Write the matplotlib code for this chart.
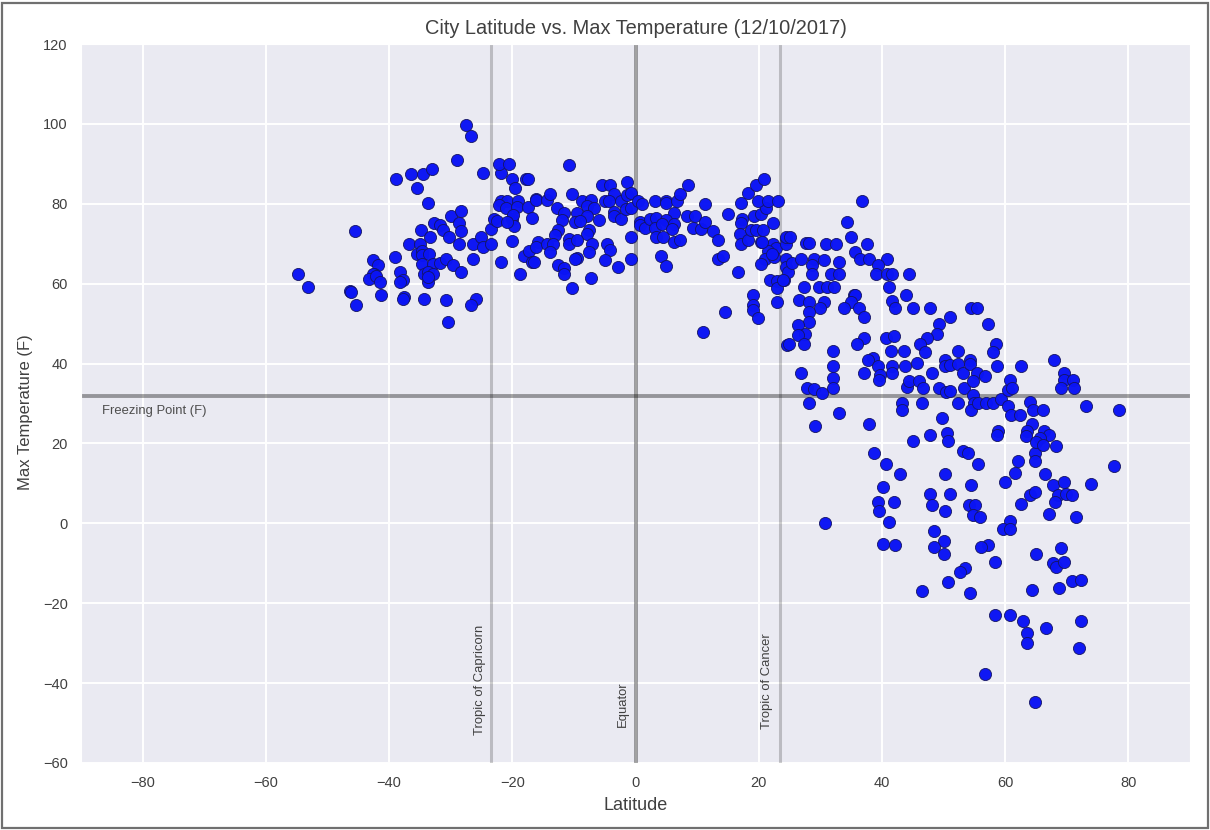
import matplotlib
matplotlib.use("Agg")
import matplotlib.pyplot as plt
import numpy as np
import seaborn as sns
from matplotlib.patches import Rectangle

# values, one pair of lists per latitude band
lat_south = [-54.7, -53.1, -46.4, -46.1, -45.3, -45.5, -42.6, -41.8, -42.4, -42.6, -43.3, -42.2, -41.5, -41.3, -39.1, -38.8,
             -38.3, -37.7, -38.3, -37.5, -37.7, -36.7, -36.4, -34.5, -33.1, -35.4, -33.7, -34.8, -35.0, -33.4, -35.5, -34.7,
             -34.7, -33.5, -34.7, -32.9, -31.8, -30.8, -29.7, -28.3, -34.3, -33.6, -32.9, -33.7, -33.7, -34.3, -30.8, -30.5,
             -25.9, -26.7, -32.7, -31.8, -31.2, -30.2, -29.9, -28.3, -28.6, -28.3, -28.6, -28.9, -27.5, -26.7, -24.8, -26.4,
             -26.4, -25.1, -24.8, -23.4, -23.4, -22.9, -22.4, -21.8, -18.7, -20.0, -21.9, -22.2, -20.6, -20.0, -19.5, -17.7,
             -17.5, -21.9, -20.9, -22.2, -21.0, -19.0, -19.2, -17.5, -20.0, -19.9, -19.8, -20.9, -18.1, -17.3]
temp_south = [62.5, 59.2, 58.2, 57.9, 54.6, 73.3, 65.8, 64.7, 62.3, 62.5, 61.2, 62.0, 60.4, 57.1, 66.7, 86.1,
              62.9, 60.8, 60.4, 56.7, 56.2, 70.0, 87.4, 87.4, 88.6, 84.0, 80.3, 73.4, 70.0, 71.7, 67.5, 68.3,
              67.1, 67.5, 65.0, 65.0, 65.2, 66.3, 64.6, 62.9, 62.5, 62.9, 62.5, 60.4, 61.7, 56.2, 55.8, 50.4,
              56.2, 54.6, 75.3, 74.6, 73.4, 71.7, 77.0, 78.3, 75.3, 73.2, 70.0, 91.0, 99.8, 96.9, 87.8, 70.0,
              66.3, 71.7, 69.2, 70.0, 73.6, 76.1, 75.7, 65.4, 62.5, 70.8, 87.8, 90.0, 89.9, 86.1, 84.0, 86.1,
              86.1, 80.7, 80.7, 79.6, 79.0, 80.7, 79.2, 79.2, 76.3, 77.1, 74.4, 75.4, 67.0, 68.3]

lat_tropics = [-10.8, -16.2, -16.2, -14.4, -13.8, -12.7, -11.6, -12.0, -16.8, -12.5, -13.0, -15.9, -16.2, -14.4, -13.4, -13.8,
               -16.8, -16.5, -12.5, -11.6, -11.6, -10.3, -7.3, -10.3, -8.7, -7.3, -7.9, -6.8, -9.5, -7.9, -9.8, -9.0,
               -6.0, -7.6, -7.9, -10.8, -10.8, -9.5, -7.1, -7.6, -9.5, -9.8, -4.6, -4.1, -4.9, -2.8, -0.7, -0.7,
               -5.5, -4.1, -1.4, -3.5, -4.9, -4.3, -2.4, -1.4, -0.7, -3.5, -3.5, -2.3, -1.6, -0.7, 0.4, 1.0,
               0.8, 0.8, 1.6, 3.1, 2.4, 3.4, 3.2, 4.9, 5.0, 6.8, 7.2, 8.5, 6.3, 4.9, 4.3, 6.3,
               5.9, 3.4, 4.5, 6.2, 7.3, 4.2, 5.0, 8.3, 9.6, 9.4, 10.7, 11.3, 11.3, 12.6, 13.4, 13.4,
               14.2, 10.9, 14.5, 16.6, 15.0, 17.2, 18.2, 19.6, 20.9, 17.3, 17.2, 16.9, 17.2, 18.2, 19.3, 20.4,
               21.2, 19.9, 21.5, 23.1, 22.3, 18.7, 19.5, 20.7, 20.3, 22.3, 22.8, 21.5, 21.1, 20.3, 22.5, 21.9,
               22.9, 24.1, 23.0, 23.0, 24.4, 24.4, 24.5, 24.5, 24.7, 24.6, 19.0, 19.0, 19.0, 19.9, 20.6, 22.2, 24.0]
temp_tropics = [89.8, 81.3, 80.9, 80.9, 82.5, 79.0, 77.8, 75.9, 76.5, 73.4, 72.1, 70.4, 69.2, 70.0, 70.0, 67.9,
                65.4, 65.3, 64.6, 64.0, 62.4, 58.8, 61.3, 82.5, 80.7, 80.9, 79.5, 79.0, 77.8, 77.0, 75.5, 75.7,
                75.9, 73.4, 72.5, 71.3, 69.9, 70.9, 70.0, 67.9, 66.5, 66.3, 70.0, 68.4, 65.9, 64.2, 66.3, 71.6,
                84.6, 84.6, 85.4, 82.5, 80.7, 80.7, 80.7, 82.3, 82.8, 78.0, 77.0, 76.1, 78.6, 79.0, 80.7, 80.0,
                75.5, 74.6, 74.0, 80.7, 76.1, 76.5, 74.0, 80.7, 80.3, 80.7, 82.5, 84.6, 77.8, 75.9, 74.9, 75.0,
                73.6, 71.6, 71.6, 70.4, 70.9, 67.0, 64.5, 77.0, 77.0, 74.0, 73.6, 75.5, 80.0, 73.2, 70.9, 66.3,
                67.0, 47.9, 52.9, 62.9, 77.5, 80.3, 82.8, 84.6, 86.1, 76.1, 75.3, 72.5, 69.9, 70.9, 77.0, 77.4,
                79.0, 80.7, 80.7, 80.7, 75.3, 73.4, 73.4, 73.4, 70.4, 70.0, 69.0, 68.2, 66.1, 65.0, 66.7, 60.8,
                60.6, 60.8, 58.8, 55.4, 71.3, 70.0, 66.3, 64.2, 62.9, 44.6, 57.1, 54.6, 53.3, 51.3, 70.5, 67.5, 61.0]

lat_north = [36.8, 34.4, 34.9, 37.6, 35.7, 36.4, 37.9, 40.9, 39.3, 39.0, 40.9, 41.7, 44.4, 41.2, 43.9, 41.7,
             42.2, 45.0, 47.8, 51.1, 49.2, 48.9, 47.3, 46.2, 47.0, 40.7, 42.0, 41.4, 43.5, 45.7, 43.8, 41.7,
             41.7, 38.6, 37.7, 39.3, 39.7, 39.5, 37.1, 36.0, 37.1, 35.5, 35.7, 34.9, 33.9, 36.3, 37.1, 54.4,
             55.5, 29.8, 31.1, 32.2, 27.3, 26.5, 28.2, 30.6, 29.9, 28.2, 28.2, 26.3, 27.5, 26.3, 24.9, 27.3,
             32.0, 32.0, 32.0, 32.0, 26.8, 27.8, 29.0, 30.3, 28.2, 33.0, 29.2, 53.3, 49.2, 44.1, 44.4, 46.0,
             46.6, 48.1, 50.3, 50.2, 51.1, 52.4, 52.4, 53.2, 54.3, 54.3, 55.4, 54.8, 50.4, 51.1, 24.5, 25.0,
             25.4, 26.8, 27.6, 28.2, 30.9, 32.5, 29.0, 28.7, 28.7, 30.6, 33.0, 31.7, 33.0]
temp_north = [80.7, 75.4, 71.7, 70.0, 68.0, 66.1, 66.1, 66.3, 64.6, 62.5, 62.5, 62.5, 62.5, 59.2, 57.1, 55.7,
              53.8, 53.8, 53.8, 51.7, 50.0, 47.5, 46.4, 44.8, 42.9, 46.4, 46.8, 43.1, 43.1, 40.2, 39.3, 39.3,
              37.7, 41.4, 41.0, 39.3, 37.2, 35.8, 46.4, 44.8, 37.7, 57.1, 57.1, 55.4, 53.8, 53.8, 51.7, 53.9,
              53.9, 59.2, 59.2, 59.2, 59.2, 55.9, 55.4, 55.4, 53.8, 52.9, 50.4, 49.6, 47.5, 47.1, 44.8, 44.8,
              43.1, 39.3, 36.4, 33.9, 37.7, 33.9, 33.6, 32.7, 30.2, 27.7, 24.4, 33.9, 33.9, 34.1, 35.6, 35.6,
              33.9, 37.7, 41.0, 39.3, 39.7, 43.1, 40.0, 37.7, 41.0, 40.0, 37.7, 35.6, 32.9, 33.2, 71.7, 71.7,
              65.2, 66.3, 70.3, 70.3, 70.0, 70.0, 66.3, 64.6, 62.5, 65.9, 65.5, 62.5, 62.5]

lat_cold = [57.2, 58.5, 58.0, 58.6, 62.6, 68.0, 69.6, 69.6, 71.0, 69.0, 71.2, 73.1, 78.5, 56.7, 54.7, 55.0,
            54.5, 55.6, 56.9, 58.0, 59.3, 60.5, 60.8, 61.1, 60.4, 61.0, 62.4, 64.0, 64.5, 66.2, 52.4, 46.5,
            43.2, 43.2, 49.7, 37.9, 47.8, 50.5, 50.8, 45.1, 58.9, 58.6, 53.2, 54.0, 55.6, 38.7, 40.6, 43.0,
            50.2, 40.1, 54.5, 62.1, 61.6, 60.0, 66.4, 64.8, 64.8, 64.3, 63.6, 63.4, 66.3, 67.1, 65.6, 65.0,
            66.1, 68.3, 77.7, 73.9, 67.8, 69.6, 68.5, 69.8, 70.8, 68.1, 71.5, 67.1, 62.6, 64.0, 64.8, 47.8,
            51.1, 42.0, 39.3, 39.5, 48.1, 50.2, 54.1, 55.1, 54.7, 55.9, 41.1, 60.8, 59.6, 60.8, 30.8]
temp_cold = [50.0, 45.0, 42.9, 39.3, 39.3, 41.0, 37.7, 35.8, 35.8, 33.8, 33.8, 29.3, 28.4, 36.8, 32.2, 30.0,
             28.4, 30.0, 30.0, 30.0, 31.2, 33.3, 35.8, 33.8, 29.3, 27.2, 27.2, 30.3, 28.4, 28.4, 30.1, 30.1,
             30.1, 28.4, 26.4, 24.8, 22.2, 22.7, 20.6, 20.6, 23.2, 22.2, 18.1, 17.7, 14.9, 17.7, 14.9, 12.4,
             12.4, 9.0, 9.5, 15.6, 12.7, 10.3, 12.4, 17.6, 15.5, 24.8, 23.2, 21.8, 23.2, 22.2, 21.4, 20.3,
             19.7, 19.3, 14.3, 9.9, 9.5, 10.3, 7.1, 7.4, 7.0, 5.3, 1.5, 2.4, 4.9, 7.1, 7.8, 7.4,
             7.4, 5.3, 5.3, 3.2, 4.5, 3.2, 4.5, 4.5, 2.0, 1.5, 0.3, 0.5, -1.4, -1.4, 0.0]

lat_freezing = [48.4, 50.0, 48.4, 50.0, 40.2, 42.1, 57.2, 56.1, 58.3, 53.4, 52.6, 50.7, 46.5, 54.3, 65.0, 69.0,
                67.7, 68.2, 69.6, 70.9, 72.3, 68.8, 64.4, 58.3, 60.8, 62.9, 66.6, 72.3, 63.5, 63.6, 72.0, 56.7, 64.8]
temp_freezing = [-1.8, -4.3, -5.9, -7.6, -5.1, -5.5, -5.5, -5.9, -9.7, -11.3, -12.2, -14.7, -17.0, -17.4, -7.6, -6.3,
                 -9.9, -10.9, -9.7, -14.5, -14.3, -16.2, -16.6, -22.9, -22.9, -24.5, -26.1, -24.5, -27.5, -30.0, -31.1, -37.8, -44.8]

x_ticks = [-80, -60, -40, -20, 0, 20, 40, 60, 80]
y_ticks = [-60, -40, -20, 0, 20, 40, 60, 80, 100, 120]

lat = np.concatenate([lat_south, lat_tropics, lat_north, lat_cold, lat_freezing])
temp = np.concatenate([temp_south, temp_tropics, temp_north, temp_cold, temp_freezing])

sns.set_style("darkgrid")
plt.rcParams['font.family'] = ['Liberation Sans', 'DejaVu Sans']

fig = plt.figure(figsize=(12.1, 8.3), dpi=100)
ax = fig.add_axes([81/1210, 1-763/830, (1190-81)/1210, (763-44)/830])

ax.scatter(lat, temp, s=76, c="#0a14f5", edgecolors="#14145f", linewidths=0.6, alpha=0.98, zorder=3)

# reference lines
ax.axhline(32, color="black", alpha=0.36, lw=2.8, zorder=2)
ax.axvline(0, color="black", alpha=0.36, lw=2.8, zorder=2)
ax.axvline(-23.5, color="black", alpha=0.2, lw=2.2, zorder=2)
ax.axvline(23.5, color="black", alpha=0.2, lw=2.2, zorder=2)

ax.text(-86.6, 28, "Freezing Point (F)", fontsize=9.4, color=".3", va="center")
ax.text(-25.2, -53, "Tropic of Capricorn", fontsize=9.4, color=".25", rotation=90, va="bottom", ha="center")
ax.text(-2.0, -51, "Equator", fontsize=9.4, color=".25", rotation=90, va="bottom", ha="center")
ax.text(21.3, -51.5, "Tropic of Cancer", fontsize=9.4, color=".25", rotation=90, va="bottom", ha="center")

ax.set_xlim(-90, 90)
ax.set_ylim(-60, 120)
ax.set_xticks(x_ticks)
ax.set_yticks(y_ticks)
ax.tick_params(labelsize=10.5, pad=6, labelcolor=".25")
ax.grid(color="white", lw=1.4)
ax.set_title("City Latitude vs. Max Temperature (12/10/2017)", fontsize=14.4, color=".25", pad=7)
ax.set_xlabel("Latitude", fontsize=13, labelpad=5, color=".25")
ax.set_ylabel("Max Temperature (F)", fontsize=12, color=".25")
ax.yaxis.set_label_coords(-0.043, 0.488)

# screenshot frame
fig.add_artist(Rectangle((2/1210, 2/830), 1206/1210, 825/830, fill=False, edgecolor="#707070", lw=1.6,
                         transform=fig.transFigure))

fig.savefig("out.png", dpi=100)
